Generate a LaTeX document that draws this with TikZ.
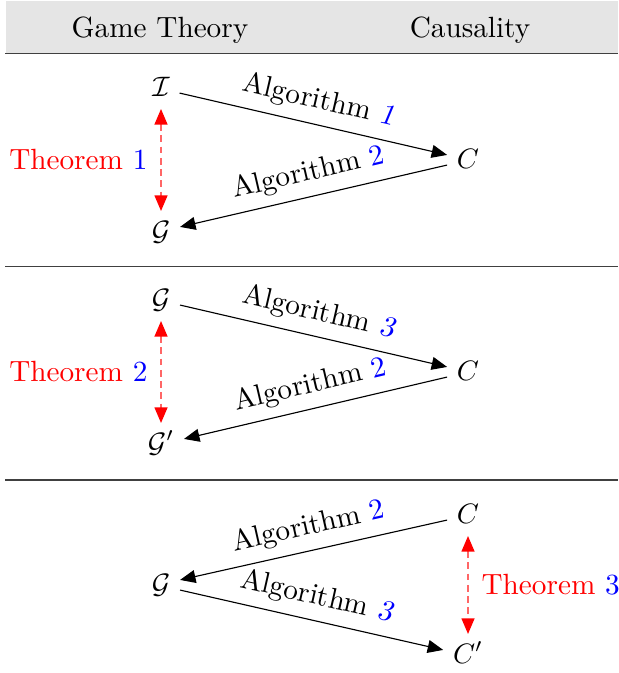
\documentclass[tikz,border=0pt]{standalone}
\usepackage{amsmath,amssymb}
\usepackage{tikz}
\usetikzlibrary{arrows.meta, positioning}

\begin{document}
\begin{tikzpicture}[>={Triangle[length=5.5pt,width=4.6pt]}, on grid, font=\fontsize{10.4}{12.5}\selectfont,
  obj/.style={inner sep=3.3pt, text height=1.6ex, text depth=.25ex},
  alg/.style={->, line width=.4pt},
  thm/.style={{Triangle[length=5.5pt,width=4.6pt,color=red]}-{Triangle[length=5.5pt,width=4.6pt,color=red]},
    draw=red!60, line width=.4pt, dash pattern=on 2.4pt off 1.6pt}]
\useasboundingbox (0,0) rectangle (7.725,-8.4125);
% header
\fill[black!10] (0.075,-0.0125) rectangle (7.725,-0.66);
\node (gt) at (2.0,-0.375) {Game Theory};
\node (ca) at (5.875,-0.375) {Causality};
\draw[black!75, line width=.5pt] (0.0625,-0.669) -- (7.725,-0.669);
\draw[black!75, line width=.5pt] (0.0625,-3.334) -- (7.725,-3.334);
\draw[black!75, line width=.5pt] (0.0625,-6.0) -- (7.725,-6.0);
% I, C, G
\node[obj] (I1) at (2.0125,-1.1) {$\mathcal{I}$};
\node[obj, below right=0.9cm and 3.8375cm of I1] (C1) {$C$};
\node[obj, below=1.8cm of I1] (G1) {$\mathcal{G}$};
\draw[alg] ([yshift=-1.8pt]I1.east) -- node[above, sloped] {Algorithm \textcolor{blue}{\textsl{1}}} ([yshift=1.8pt]C1.west);
\draw[alg] ([yshift=-1.8pt]C1.west) -- node[above, sloped] {Algorithm \textcolor{blue}{2}} ([yshift=1.8pt]G1.east);
\draw[thm] (I1) -- node[left=1.3pt, red] {Theorem \textcolor{blue}{1}} (G1);
% G, C, G'
\node[obj] (G2) at (2.0125,-3.75) {$\mathcal{G}$};
\node[obj, below right=0.9cm and 3.8375cm of G2] (C2) {$C$};
\node[obj, below=1.8cm of G2] (H2) {$\mathcal{G}'$};
\draw[alg] ([yshift=-1.8pt]G2.east) -- node[above, sloped] {Algorithm \textcolor{blue}{\textsl{3}}} ([yshift=1.8pt]C2.west);
\draw[alg] ([yshift=-1.8pt]C2.west) -- node[above, sloped] {Algorithm \textcolor{blue}{2}} ([yshift=1.8pt]H2.east);
\draw[thm] (G2) -- node[left=1.3pt, red] {Theorem \textcolor{blue}{2}} (H2);
% C, G, C'
\node[obj] (C3) at (5.85,-6.4375) {$C$};
\node[obj, below left=0.875cm and 3.8375cm of C3] (G3) {$\mathcal{G}$};
\node[obj, below=1.75cm of C3] (D3) {$C'$};
\draw[alg] ([yshift=-1.8pt]C3.west) -- node[above, sloped] {Algorithm \textcolor{blue}{2}} ([yshift=1.8pt]G3.east);
\draw[alg] ([yshift=-1.8pt]G3.east) -- node[above, sloped] {Algorithm \textcolor{blue}{\textsl{3}}} ([yshift=1.8pt]D3.west);
\draw[thm] (C3) -- node[right=1.3pt, red] {Theorem \textcolor{blue}{3}} (D3);
\end{tikzpicture}
\end{document}
